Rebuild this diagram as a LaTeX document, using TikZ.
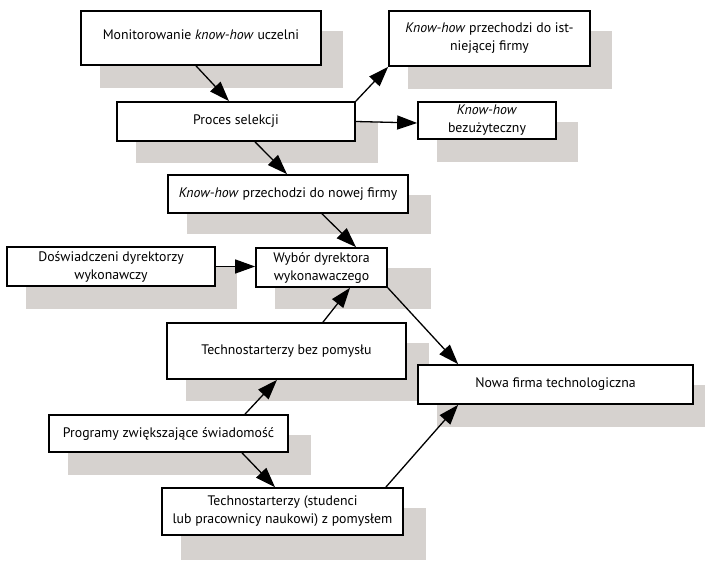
\documentclass[tikz,border=0pt]{standalone}
\usepackage{fontspec}
\setmainfont{PT Sans}
\usetikzlibrary{arrows.meta,calc}
\definecolor{shadowgray}{RGB}{214,210,207}
\pgfdeclarelayer{bg}
\pgfsetlayers{bg,main}
\tikzset{
  box/.style={draw=black, line width=1.7pt, fill=white, inner sep=2pt,
    align=center, font=\fontsize{13.8}{18}\selectfont},
  flow/.style={line width=1.3pt, -{Triangle[length=20pt, width=14pt]}},
  shade/.style={fill=shadowgray},
}
% drop shadow behind a named box: offset of the upper left and lower right corners
\newcommand{\boxshadow}[3]{%
  \begin{pgfonlayer}{bg}
    \fill[shade] ([shift={(20pt,-21pt)}]#1.north west) rectangle ([shift={(#2pt,-#3pt)}]#1.south east);
  \end{pgfonlayer}}
\begin{document}
\begin{tikzpicture}[x=1pt, y=-1pt]
\useasboundingbox (0,0) rectangle (705,561);

% boxes
\node[box, minimum width=240pt, minimum height=54pt] (mon) at (201,38)
  {Monitorowanie \textit{know-how} uczelni\\[-12pt]};
\node[box, minimum width=238pt, minimum height=39pt] (pro) at (236,121.5)
  {Proces selekcji};
\node[box, minimum width=201pt, minimum height=55pt] (ist) at (489.5,38.5)
  {\textit{Know-how} przechodzi do ist-\\niejącej firmy\\[-14pt]};
\node[box, minimum width=138pt, minimum height=37pt] (bez) at (487,120.5)
  {\textit{Know-how}\\bezużyteczny};
\node[box, minimum width=240pt, minimum height=38pt] (now) at (288,194)
  {\textit{Know-how} przechodzi do nowej firmy};
\node[box, minimum width=208pt, minimum height=39pt] (dos) at (111,266.5)
  {Doświadczeni dyrektorzy\\wykonawczy};
\node[box, minimum width=131pt, minimum height=39pt] (wyb) at (321.5,267.5)
  {Wybór dyrektora\\wykonawaczego};
\node[box, minimum width=239pt, minimum height=56pt] (tbp) at (286.5,351)
  {Technostarterzy bez pomysłu};
\node[box, minimum width=239pt, minimum height=37pt] (prg) at (168.5,433.5)
  {Programy zwiększające świadomość};
\node[box, minimum width=241pt, minimum height=47pt] (tzp) at (282.5,511.5)
  {Technostarterzy (studenci\\lub pracownicy naukowi) z pomysłem};
\node[box, minimum width=275pt, minimum height=39pt] (nft) at (555.5,384.5)
  {Nowa firma technologiczna};

% shadows
\boxshadow{mon}{21}{22}
\boxshadow{pro}{22}{21}
\boxshadow{ist}{21}{22}
\boxshadow{bez}{21}{22}
\boxshadow{now}{22}{20}
\boxshadow{dos}{21}{22}
\boxshadow{wyb}{43}{21}
\boxshadow{tbp}{22}{21}
\boxshadow{prg}{22}{22}
\boxshadow{tzp}{22}{24}
\boxshadow{nft}{22}{22}

% connectors
\draw[flow] ([xshift=-5pt]mon.south) -- ([xshift=-7pt]pro.north);
\draw[flow] ([xshift=19pt]pro.south) -- ([xshift=-1pt]now.north);
\draw[flow] (pro.north east) -- (ist.south west);
\draw[flow] (pro.east) -- ([yshift=-2.5pt]bez.west);
\draw[flow] ([xshift=34pt]now.south) -- ([xshift=34.5pt]wyb.north);
\draw[flow] (dos.east) -- (dos.east -| wyb.west);
\draw[flow] ([xshift=36.5pt]tbp.north) -- ([xshift=28.5pt]wyb.south);
\draw[flow] (wyb.south east) -- ([xshift=41pt]nft.north west);
\draw[flow] ([xshift=76.5pt]prg.north) -- ([xshift=-9.5pt]tbp.south);
\draw[flow] ([xshift=73.5pt]prg.south) -- ([xshift=-7.5pt]tzp.north);
\draw[flow] ([xshift=-18pt]tzp.north east) -- ([xshift=41pt]nft.south west);
\end{tikzpicture}
\end{document}
